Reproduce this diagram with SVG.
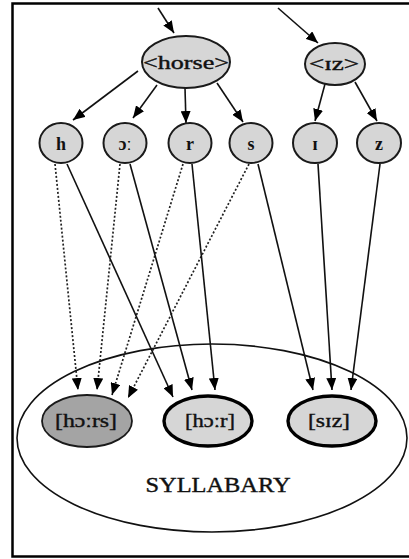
<svg xmlns="http://www.w3.org/2000/svg" width="409" height="559" viewBox="0 0 409 559">
<style>
.bg{fill:#fff}
.frame{fill:none;stroke:#000;stroke-width:2.5}
.node{fill:#d6d6d6;stroke:#1a1a1a;stroke-width:2}
.thick{fill:#d6d6d6;stroke:#000;stroke-width:3.4}
.dark{fill:#a4a4a4;stroke:#1a1a1a;stroke-width:1.8}
.syl{fill:none;stroke:#111;stroke-width:1.6}
.t{font-family:"Liberation Serif","Times New Roman",serif;fill:#111;text-anchor:middle;stroke:#111;stroke-width:0.4}
.b{font-weight:bold;stroke-width:0}
.e{stroke:#111;stroke-width:1.6;fill:none}
.d{stroke:#222;stroke-width:1.7;fill:none;stroke-dasharray:2 2}
</style>
<defs>
<marker id="ah" markerUnits="userSpaceOnUse" markerWidth="12" markerHeight="10" refX="12" refY="5" orient="auto" viewBox="0 0 12 10">
<path d="M0,0 L12,5 L0,10 z" fill="#000"/>
</marker>
</defs>
<rect class="bg" x="0" y="0" width="409" height="559"/>
<rect class="frame" x="12.5" y="3.5" width="410" height="553"/>

<g id="syllabary">
<ellipse class="syl" cx="212" cy="438" rx="195" ry="94"/>
<text class="t" x="218" y="492" font-size="21" textLength="145" lengthAdjust="spacingAndGlyphs">SYLLABARY</text>
</g>

<g id="connectors">
<line class="e" x1="158" y1="8" x2="174" y2="33" marker-end="url(#ah)"/>
<line class="e" x1="278" y1="8" x2="318" y2="43" marker-end="url(#ah)"/>
<line class="e" x1="138" y1="71" x2="73" y2="120" marker-end="url(#ah)"/>
<line class="e" x1="157" y1="85" x2="133" y2="118" marker-end="url(#ah)"/>
<line class="e" x1="185" y1="88" x2="186" y2="123" marker-end="url(#ah)"/>
<line class="e" x1="217" y1="83" x2="243" y2="122" marker-end="url(#ah)"/>
<line class="e" x1="325" y1="84" x2="315" y2="121" marker-end="url(#ah)"/>
<line class="e" x1="355" y1="82" x2="377" y2="121" marker-end="url(#ah)"/>

<line class="d" x1="55" y1="164" x2="78" y2="390" marker-end="url(#ah)"/>
<line class="d" x1="120" y1="164" x2="97" y2="390" marker-end="url(#ah)"/>
<line class="d" x1="183" y1="164" x2="112" y2="395" marker-end="url(#ah)"/>
<line class="d" x1="249" y1="164" x2="128" y2="398" marker-end="url(#ah)"/>

<line class="e" x1="67" y1="164" x2="173" y2="397" marker-end="url(#ah)"/>
<line class="e" x1="130" y1="164" x2="192" y2="390" marker-end="url(#ah)"/>
<line class="e" x1="192" y1="164" x2="215" y2="390" marker-end="url(#ah)"/>
<line class="e" x1="258" y1="164" x2="313" y2="390" marker-end="url(#ah)"/>
<line class="e" x1="318" y1="164" x2="332" y2="390" marker-end="url(#ah)"/>
<line class="e" x1="380" y1="164" x2="351" y2="390" marker-end="url(#ah)"/>
</g>

<g id="horse">
<ellipse class="node" cx="186" cy="62" rx="44" ry="26"/>
<text class="t" x="186" y="69" font-size="19" textLength="86" lengthAdjust="spacingAndGlyphs">&lt;horse&gt;</text>
</g>
<g id="iz">
<ellipse class="node" cx="335" cy="64" rx="30" ry="21"/>
<text class="t" x="334" y="70" font-size="18" textLength="50" lengthAdjust="spacingAndGlyphs">&lt;ɪz&gt;</text>
</g>

<g id="n-h"><ellipse class="node" cx="61" cy="143" rx="21.5" ry="20"/><text class="t b" x="61" y="150" font-size="18">h</text></g>
<g id="n-o"><ellipse class="node" cx="125" cy="143" rx="21.5" ry="20"/><text class="t b" x="125" y="150" font-size="18">ɔː</text></g>
<g id="n-r"><ellipse class="node" cx="190" cy="143" rx="21.5" ry="20"/><text class="t b" x="190" y="150" font-size="18">r</text></g>
<g id="n-s"><ellipse class="node" cx="251" cy="143" rx="21.5" ry="20"/><text class="t b" x="251" y="150" font-size="18">s</text></g>
<g id="n-i"><ellipse class="node" cx="315" cy="143" rx="22" ry="20"/><text class="t b" x="315" y="150" font-size="18">ɪ</text></g>
<g id="n-z"><ellipse class="node" cx="379" cy="143" rx="22" ry="20"/><text class="t b" x="379" y="150" font-size="18">z</text></g>

<g id="s-horrs">
<ellipse class="dark" cx="87" cy="421" rx="45" ry="26"/>
<text class="t" x="86" y="427" font-size="19" textLength="62" lengthAdjust="spacingAndGlyphs">[hɔːrs]</text>
</g>
<g id="s-hor">
<ellipse class="thick" cx="208" cy="421" rx="44" ry="25"/>
<text class="t" x="210" y="427" font-size="19" textLength="50" lengthAdjust="spacingAndGlyphs">[hɔːr]</text>
</g>
<g id="s-siz">
<ellipse class="thick" cx="332" cy="421" rx="44" ry="25"/>
<text class="t" x="329" y="427" font-size="19" textLength="42" lengthAdjust="spacingAndGlyphs">[sɪz]</text>
</g>
</svg>
